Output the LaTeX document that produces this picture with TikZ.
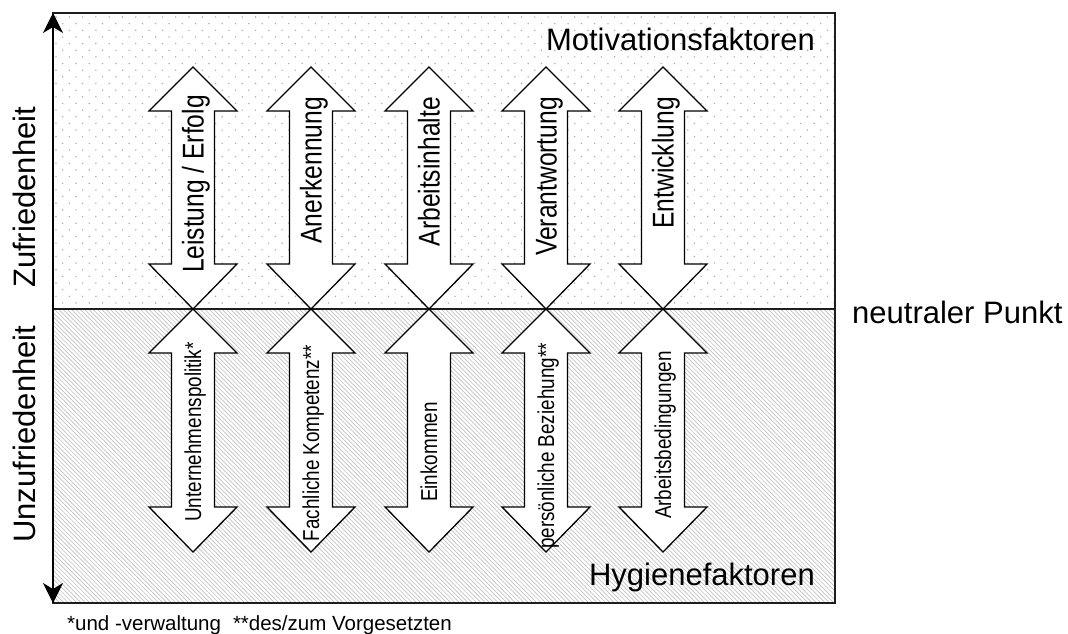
\documentclass[tikz,border=0pt]{standalone}
\usepackage{fontspec}
\setmainfont{Liberation Sans}
\usetikzlibrary{arrows.meta}
\definecolor{dotgray}{HTML}{AAAAAA}
\definecolor{hatchgray}{HTML}{C2C2C2}
\definecolor{inkline}{HTML}{1E1E1E}
\begin{document}
\begin{tikzpicture}[x=1pt,y=-1pt,
  frameline/.style={draw=inkline, line width=1.5pt},
  midline/.style={draw=inkline, line width=1.1pt},
  axisline/.style={draw=black, line width=1.3pt},
  bigarrow/.style={draw=black, line width=1.3pt, fill=white, line join=miter},
  biglabel/.style={inner sep=0pt, font=\fontsize{31}{31}\selectfont},
  toplabel/.style={inner sep=0pt, rotate=90, anchor=base east, font=\fontsize{30}{30}\selectfont},
  botlabel/.style={inner sep=0pt, rotate=90, anchor=base, font=\fontsize{23}{23}\selectfont},
  notelabel/.style={inner sep=0pt, anchor=base west, font=\fontsize{20.5}{21}\selectfont}]
\useasboundingbox (0,0) rectangle (1068,633);

% dotted field: satisfaction
\begin{scope}
  \clip (53,13) rectangle (835,309);
  \foreach \r in {0,...,45}{
    \foreach \c in {0,...,59}{
      \fill[dotgray] ({56+\c*13.3+mod(\r,2)*6.65},{17+\r*6.65}) circle (0.8pt);
    }
  }
\end{scope}

% hatched field: dissatisfaction
\begin{scope}
  \clip (53,309) rectangle (835,603);
  \foreach \i in {0,...,256}{
    \draw[hatchgray, line width=0.65pt] ({-247+\i*4.3},309) -- ++(300,300);
  }
\end{scope}

% frame and neutral line
\draw[frameline] (53,13) rectangle (835,603);
\draw[midline] (53,309) -- (835,309);

% double arrows
\foreach \cx in {193,311,429,546,663}{
  \draw[bigarrow] (\cx,67) -- (\cx+44,111) -- (\cx+21.5,111) -- (\cx+21.5,264)
    -- (\cx+44,264) -- (\cx,309) -- (\cx-44,264) -- (\cx-21.5,264)
    -- (\cx-21.5,111) -- (\cx-44,111) -- cycle;
  \draw[bigarrow] (\cx,309) -- (\cx+44,353) -- (\cx+21.5,353) -- (\cx+21.5,507)
    -- (\cx+44,507) -- (\cx,552) -- (\cx-44,507) -- (\cx-21.5,507)
    -- (\cx-21.5,353) -- (\cx-44,353) -- cycle;
}

% vertical axis
\coordinate (axtop) at (53,13);
\coordinate (axbot) at (53,603);
\draw[axisline, {Stealth[length=20pt,width=20pt,inset=6pt]}-{Stealth[length=20pt,width=20pt,inset=6pt]}] (axtop) -- (axbot);

% headings
\node[biglabel, anchor=base east] (mot) at (815,50) {Motivationsfaktoren};
\node[biglabel, anchor=base east] (hyg) at (815,585) {Hygienefaktoren};
\node[biglabel, anchor=base west] (neu) at (852,323) {neutraler Punkt};
\node[biglabel, rotate=90, anchor=base west] (zuf) at (35,288) {Zufriedenheit};
\node[biglabel, rotate=90, anchor=base west] (unz) at (35,543) {Unzufriedenheit};

% motivators
\node[toplabel] (m1) at (203.7,95) {\scalebox{0.82}[1]{Leistung / Erfolg}};
\node[toplabel] (m2) at (321.7,97) {\scalebox{0.82}[1]{Anerkennung}};
\node[toplabel] (m3) at (439.7,97) {\scalebox{0.82}[1]{Arbeitsinhalte}};
\node[toplabel] (m4) at (556.7,97) {\scalebox{0.82}[1]{Verantwortung}};
\node[toplabel] (m5) at (673.7,97) {\scalebox{0.82}[1]{Entwicklung}};

% hygiene factors
\node[botlabel] (h1) at (201.2,432) {\scalebox{0.82}[1]{Unternehmenspolitik*}};
\node[botlabel] (h2) at (319.2,443) {\scalebox{0.82}[1]{Fachliche Kompetenz**}};
\node[botlabel] (h3) at (437.2,452) {\scalebox{0.82}[1]{Einkommen}};
\node[botlabel] (h4) at (554.2,446) {\scalebox{0.82}[1]{persönliche Beziehung**}};
\node[botlabel] (h5) at (671.2,435) {\scalebox{0.82}[1]{Arbeitsbedingungen}};

% footnote
\node[notelabel] (fn) at (67,630) {*und -verwaltung\hspace{12pt}**des/zum Vorgesetzten};
\end{tikzpicture}
\end{document}
